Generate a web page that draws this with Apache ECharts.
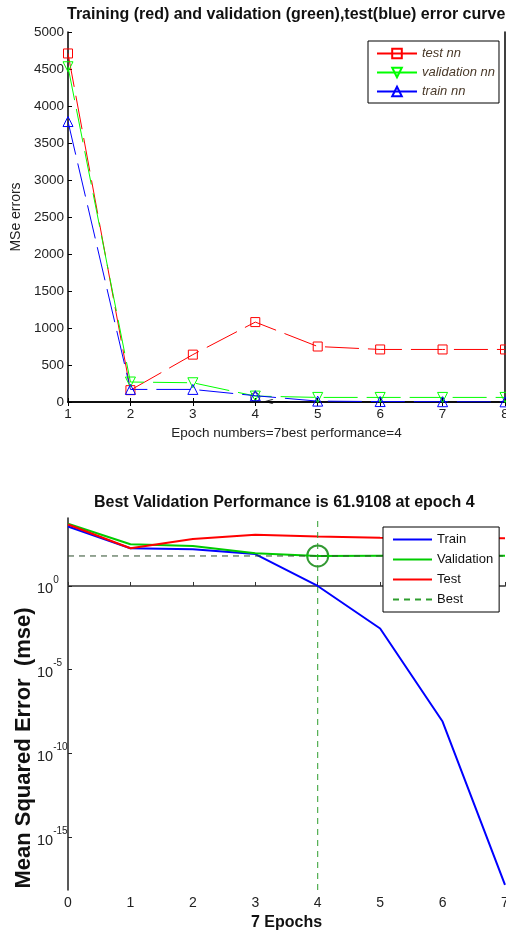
<!DOCTYPE html>
<html><head><meta charset="utf-8">
<script src="https://cdn.jsdelivr.net/npm/echarts@6/dist/echarts.min.js"></script>
<style>html,body{margin:0;padding:0;background:#fff}#c{width:506px;height:932px}</style>
</head><body><div id="c"></div>
<script>
// ---- top chart data ----
const topEpochs = [1, 2, 3, 4, 5, 6, 7, 8];
const testNN = [4710, 160, 640, 1080, 750, 710, 710, 710];
const validationNN = [4530, 270, 260, 80, 62, 62, 62, 62];
const trainNN = [3790, 170, 170, 85, 12, 6, 4, 2];
const bestMarkTop = [4, 65];
const arrowMarkTop = [4.34, 8];

// ---- bottom chart data ----
const perfEpochs = [0, 1, 2, 3, 4, 5, 6, 7];
const perfTrain = [3600, 178, 155, 81, 1.0, 2.9e-3, 8e-9, 1.4e-18];
const perfValidation = [5200, 310, 245, 89, 61.9108, 63, 63, 63];
const perfTest = [4700, 178, 645, 1150, 890, 760, 735, 715];
const bestEpoch = 4;
const bestPerf = 61.9108;
const logTicks = [-15, -10, -5, 0];
const logMin = -18.16, logMax = 4.06;

const lg = v => Math.log10(v);
const pairs = (xs, ys) => xs.map((x, i) => [x, ys[i]]);
const logPairs = (xs, ys) => xs.map((x, i) => [x, lg(ys[i])]);

const chart = echarts.init(document.getElementById('c'), null, {renderer: 'canvas'});
const FONT = 'Liberation Sans, Arial, sans-serif';
const dash = [34, 9];
const hiddenSym = {color: 'transparent', borderWidth: 0};

chart.setOption({
  animation: false,
  backgroundColor: '#fff',
  textStyle: {fontFamily: FONT},
  title: [
    {text: 'Training (red) and validation (green),test(blue) error curve', left: 67, top: 7, padding: 0,
     textStyle: {fontSize: 16, fontWeight: 'bold', color: '#111', fontFamily: FONT}},
    {text: 'Best Validation Performance is 61.9108 at epoch 4', left: 94, top: 495, padding: 0,
     textStyle: {fontSize: 16, fontWeight: 'bold', color: '#111', fontFamily: FONT}}
  ],
  legend: [
    {data: ['test nn', 'validation nn', 'train nn'], orient: 'vertical', left: 368, top: 41,
     padding: [6, 4, 5, 8], itemWidth: 40, itemHeight: 12, itemGap: 6,
     borderColor: '#000', borderWidth: 1, backgroundColor: '#fff',
     lineStyle: {type: 'solid'},
     textStyle: {fontSize: 13, fontStyle: 'italic', color: '#4a3a2a', fontFamily: FONT}},
    {data: ['Train', 'Validation', 'Test', 'Best'], orient: 'vertical', left: 383, top: 527,
     padding: [6, 6, 6, 9], itemWidth: 39, itemHeight: 13, itemGap: 7,
     borderColor: '#000', borderWidth: 1, backgroundColor: '#fff',
     textStyle: {fontSize: 13, color: '#111', fontFamily: FONT}}
  ],
  grid: [
    {left: 68, top: 32, width: 437, height: 370, outerBoundsMode: 'none', containLabel: false},
    {left: 68, top: 518, width: 437, height: 372, outerBoundsMode: 'none', containLabel: false}
  ],
  xAxis: [
    {type: 'value', gridIndex: 0, min: 1, max: 8, interval: 1,
     axisLine: {lineStyle: {color: '#000', width: 1.5}},
     axisTick: {inside: true, length: 4, lineStyle: {color: '#000'}},
     axisLabel: {fontSize: 13.5, color: '#222', margin: 5},
     splitLine: {show: false},
     name: 'Epoch numbers=7best performance=4', nameLocation: 'middle', nameGap: 24,
     nameTextStyle: {fontSize: 13.5, color: '#222'}},
    {type: 'value', gridIndex: 0, position: 'top', min: 1, max: 8, interval: 1,
     axisLine: {lineStyle: {color: '#000', width: 1.5}},
     axisTick: {inside: true, length: 4, lineStyle: {color: '#000'}},
     axisLabel: {show: false}, splitLine: {show: false}},
    {type: 'value', gridIndex: 1, min: 0, max: 7, interval: 1,
     axisLine: {lineStyle: {color: '#666', width: 2}},
     axisTick: {inside: true, length: 4, lineStyle: {color: '#333'}},
     axisLabel: {fontSize: 14, color: '#222', margin: 6},
     splitLine: {show: false},
     name: '7 Epochs', nameLocation: 'middle', nameGap: 25,
     nameTextStyle: {fontSize: 16, fontWeight: 'bold', color: '#111'}}
  ],
  yAxis: [
    {type: 'value', gridIndex: 0, min: 0, max: 5000, interval: 500,
     axisLine: {lineStyle: {color: '#000', width: 1.5}},
     axisTick: {inside: true, length: 4, lineStyle: {color: '#000'}},
     axisLabel: {fontSize: 13.5, color: '#222', margin: 4, formatter: v => String(v)},
     splitLine: {show: false},
     name: 'MSe errors', nameLocation: 'middle', nameGap: 28,
     nameTextStyle: {fontSize: 14, color: '#222'}},
    {type: 'value', gridIndex: 0, position: 'right', min: 0, max: 5000, interval: 500,
     axisLine: {show: true, lineStyle: {color: '#000', width: 1.5}},
     axisTick: {show: false}, axisLabel: {show: false}, splitLine: {show: false}},
    {type: 'value', gridIndex: 1, min: logMin, max: logMax,
     axisLine: {lineStyle: {color: '#222', width: 1.5}},
     axisTick: {inside: true, length: 4, customValues: logTicks, lineStyle: {color: '#222'}},
     axisLabel: {customValues: logTicks, margin: 31, align: 'left',
       formatter: v => '{b|10}{s|' + v + '}',
       rich: {b: {fontSize: 14.5, color: '#222', lineHeight: 22, verticalAlign: 'bottom'},
              s: {fontSize: 10, color: '#222', lineHeight: 12, verticalAlign: 'top'}}},
     splitLine: {show: false}}
  ],
  graphic: [
    {type: 'text', x: 24, y: 748, rotation: Math.PI / 2,
     style: {text: 'Mean Squared Error  (mse)', fontSize: 22, fontWeight: 'bold', fill: '#111',
             fontFamily: FONT, textAlign: 'center', textVerticalAlign: 'middle'}}
  ],
  series: [
    // top chart
    {name: 'test nn', type: 'line', xAxisIndex: 0, yAxisIndex: 0, data: pairs(topEpochs, testNN),
     symbol: 'rect', symbolSize: 9, color: '#ff0000',
     itemStyle: {color: 'transparent', borderColor: '#ff0000', borderWidth: 1},
     lineStyle: {color: '#ff0000', width: 1, type: dash}},
    {name: 'validation nn', type: 'line', xAxisIndex: 0, yAxisIndex: 0, data: pairs(topEpochs, validationNN),
     symbol: 'triangle', symbolRotate: 180, symbolSize: 10, color: '#00ff00',
     itemStyle: {color: 'transparent', borderColor: '#00ff00', borderWidth: 1},
     lineStyle: {color: '#00ff00', width: 1, type: dash}},
    {name: 'train nn', type: 'line', xAxisIndex: 0, yAxisIndex: 0, data: pairs(topEpochs, trainNN),
     symbol: 'triangle', symbolSize: 10, color: '#0000ff',
     itemStyle: {color: 'transparent', borderColor: '#0000ff', borderWidth: 1},
     lineStyle: {color: '#0000ff', width: 1, type: dash}},
    {name: 'bestTop', type: 'scatter', xAxisIndex: 0, yAxisIndex: 0, data: [bestMarkTop],
     symbol: 'circle', symbolSize: 9,
     itemStyle: {color: 'transparent', borderColor: '#000', borderWidth: 1}},
    {name: 'arrowTop', type: 'scatter', xAxisIndex: 0, yAxisIndex: 0, data: [arrowMarkTop],
     symbol: 'path://M8,0 L0,5 L8,10 M0,5 L24,5', symbolSize: [22, 10], symbolKeepAspect: true,
     itemStyle: {color: 'none', borderColor: '#000', borderWidth: 1.5}},
    // bottom chart
    {name: 'Train', type: 'line', xAxisIndex: 2, yAxisIndex: 2, data: logPairs(perfEpochs, perfTrain),
     symbol: 'none', itemStyle: hiddenSym, lineStyle: {color: '#0000ff', width: 2}},
    {name: 'Validation', type: 'line', xAxisIndex: 2, yAxisIndex: 2, data: logPairs(perfEpochs, perfValidation),
     symbol: 'none', itemStyle: hiddenSym, lineStyle: {color: '#00cc00', width: 2}},
    {name: 'Test', type: 'line', xAxisIndex: 2, yAxisIndex: 2, data: logPairs(perfEpochs, perfTest),
     symbol: 'none', itemStyle: hiddenSym, lineStyle: {color: '#ff0000', width: 2}},
    {name: 'Best', type: 'line', xAxisIndex: 2, yAxisIndex: 2, data: [[bestEpoch, logMin], [bestEpoch, logMax]],
     symbol: 'none', itemStyle: hiddenSym, lineStyle: {color: '#2e9e2e', width: 1, type: [6, 5]}},
    {name: 'bestH', type: 'line', xAxisIndex: 2, yAxisIndex: 2, data: [[0, lg(bestPerf)], [7, lg(bestPerf)]],
     symbol: 'none', lineStyle: {color: '#2d4d2d', width: 1, type: [6, 5]}},
    {name: 'bestCircle', type: 'scatter', xAxisIndex: 2, yAxisIndex: 2, data: [[bestEpoch, lg(bestPerf)]],
     symbol: 'circle', symbolSize: 21,
     itemStyle: {color: 'transparent', borderColor: '#008000', borderWidth: 2}}
  ]
});
</script></body></html>
